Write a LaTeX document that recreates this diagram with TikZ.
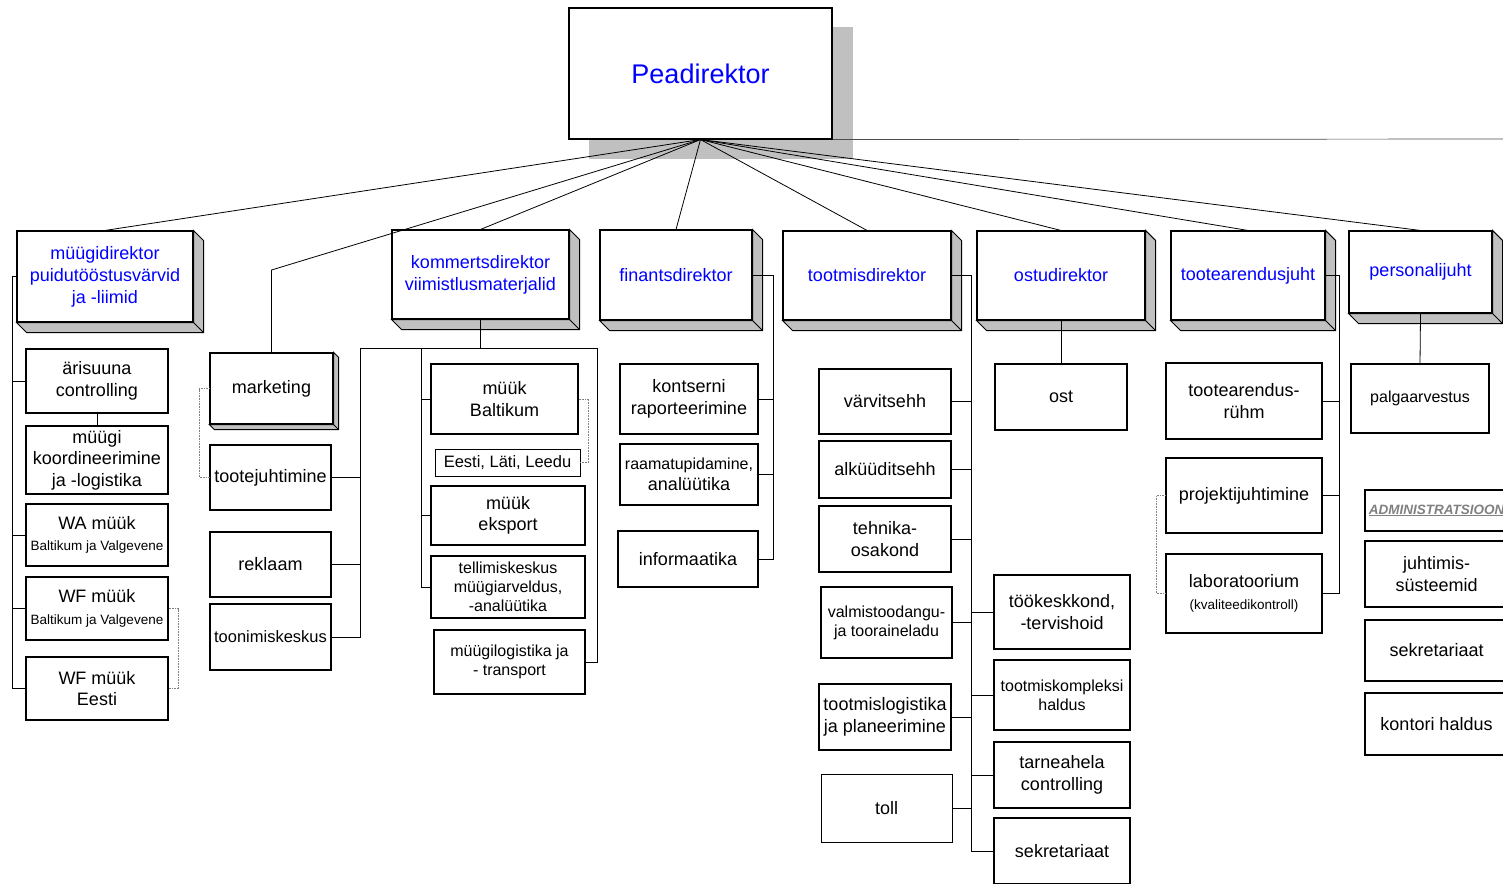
\documentclass[tikz,border=0pt]{standalone}
\usepackage{fontspec}
\setmainfont{Liberation Sans}
\usetikzlibrary{calc,positioning}
\definecolor{hdblue}{RGB}{0,0,255}
\definecolor{slabgray}{RGB}{192,192,192}
\definecolor{admgray}{RGB}{128,128,128}

\newcommand{\fsmall}{\fontsize{13.5}{15.5}\selectfont}
\newcommand{\fmid}{\fontsize{16}{19}\selectfont}
\newcommand{\fnorm}{\fontsize{18}{21.5}\selectfont}
\newcommand{\fhead}{\fontsize{18}{22}\selectfont}

% bottom and right face of a raised box
\newcommand{\slab}[2]{%
  \filldraw[fill=slabgray, line width=0.9pt] (#1.south west) -- ++(#2,#2)
    -- ($(#1.south east)+(#2,#2)$) -- ($(#1.north east)+(#2,#2)$)
    -- (#1.north east) -- (#1.south east) -- cycle;
  \draw[line width=0.9pt] (#1.south east) -- ++(#2,#2);}

\begin{document}
\begin{tikzpicture}[x=1pt, y=-1pt,
    dept/.style={draw, line width=1.2pt, inner sep=1pt, align=center, font=\fnorm},
    chief/.style={draw, fill=white, line width=1.1pt, inner sep=1pt, align=center,
                  text=hdblue, font=\fhead},
    link/.style={line width=0.8pt},
    dotlink/.style={densely dotted, line width=0.6pt, gray}
  ]
  \useasboundingbox (0,0) rectangle (1503,883);
  \clip (0,0) rectangle (1503,883);

  % Peadirektor with its shadow
  \fill[slabgray] (589,27) rectangle (853,159);
  \node[chief, minimum width=263, minimum height=131,
        font=\fontsize{27}{30}\selectfont] (boss) at (700.5,73.5) {Peadirektor};
  \coordinate (redge) at (1510,139);
  \draw[line width=0.7pt, black!70] (boss.south east) -- (redge);

  % directors
  \node[chief, minimum width=176, minimum height=91] (mdir) at (105,276.5)
    {müügidirektor\\puidutööstusvärvid\\ja -liimid};
  \node[chief, minimum width=177, minimum height=89] (kdir) at (480.5,274.5)
    {kommertsdirektor\\viimistlusmaterjalid};
  \node[chief, minimum width=152, minimum height=90] (fdir) at (676,275) {finantsdirektor};
  \node[chief, minimum width=168, minimum height=89] (tdir) at (867,275.5) {tootmisdirektor};
  \node[chief, minimum width=168, minimum height=89] (odir) at (1061,275.5) {ostudirektor};
  \node[chief, minimum width=154, minimum height=89] (adir) at (1248,275.5) {tootearendusjuht};
  \node[chief, minimum width=143, minimum height=82] (pdir) at (1420.5,272) {personalijuht};
  \foreach \d in {mdir,kdir,fdir,tdir,odir,adir,pdir} {\slab{\d}{10}}

  \node[dept, minimum width=123, minimum height=71] (mkt) at (271.5,388.5) {marketing};
  \slab{mkt}{5}

  % müügidirektor
  \node[dept, minimum width=142, minimum height=64] (aris) at (97,381) {ärisuuna\\controlling};
  \node[dept, minimum width=142, minimum height=68] (koord) at (97,460)
    {müügi\\koordineerimine\\ja -logistika};
  \node[dept, minimum width=142, minimum height=62] (wa) at (97,535)
    {WA müük\\{\fsmall Baltikum ja Valgevene}};
  \node[dept, minimum width=142, minimum height=63] (wfb) at (97,608.5)
    {WF müük\\{\fsmall Baltikum ja Valgevene}};
  \node[dept, minimum width=142, minimum height=63] (wfe) at (97,688.5) {WF müük\\Eesti};

  % marketing
  \node[dept, minimum width=121, minimum height=65] (tj) at (270.5,477.5) {tootejuhtimine};
  \node[dept, minimum width=121, minimum height=65] (rek) at (270.5,564.5) {reklaam};
  \node[dept, minimum width=121, minimum height=66, font=\fontsize{16.5}{19}\selectfont]
    (ton) at (270.5,637) {toonimiskeskus};

  % kommertsdirektor
  \node[dept, minimum width=147, minimum height=70] (mb) at (504.5,399) {müük\\Baltikum};
  \node[dept, line width=0.9pt, minimum width=145, minimum height=27,
        font=\fontsize{16.5}{18}\selectfont] (ell) at (507.5,462.5) {Eesti, Läti, Leedu};
  \node[dept, minimum width=154, minimum height=59] (me) at (508,515.5) {müük\\eksport};
  \node[dept, minimum width=154, minimum height=62, font=\fmid] (tel) at (508,587)
    {tellimiskeskus\\müügiarveldus,\\-analüütika};
  \node[dept, minimum width=151, minimum height=64, font=\fmid] (mlog) at (509.5,662)
    {müügilogistika ja\\- transport};

  % finantsdirektor
  \node[dept, minimum width=138, minimum height=70] (kontr) at (689,399)
    {kontserni\\raporteerimine};
  \node[dept, minimum width=138, minimum height=61] (rpid) at (689,474.5)
    {{\fmid raamatupidamine,}\\analüütika};
  \node[dept, minimum width=140, minimum height=56] (info) at (688,559) {informaatika};

  % tootmisdirektor
  \node[dept, minimum width=132, minimum height=65] (varv) at (885,401.5) {värvitsehh};
  \node[dept, minimum width=132, minimum height=57] (alk) at (885,469.5) {alküüditsehh};
  \node[dept, minimum width=132, minimum height=66] (tehn) at (885,539) {tehnika-\\osakond};
  \node[dept, minimum width=131, minimum height=71, font=\fmid] (ladu) at (886.5,622.5)
    {valmistoodangu-\\ja tooraineladu};
  \node[dept, minimum width=132, minimum height=66] (tlog) at (885,717)
    {tootmislogistika\\ja planeerimine};
  \node[dept, line width=0.9pt, minimum width=131, minimum height=68] (toll) at (886.5,808) {toll};
  \node[dept, minimum width=136, minimum height=74] (tkk) at (1062,612)
    {töökeskkond,\\-tervishoid};
  \node[dept, minimum width=136, minimum height=70, font=\fmid] (tkh) at (1062,695)
    {tootmiskompleksi\\haldus};
  \node[dept, minimum width=136, minimum height=66] (tarn) at (1062,775)
    {tarneahela\\controlling};
  \node[dept, minimum width=136, minimum height=66] (tsek) at (1062,851) {sekretariaat};

  % ostudirektor
  \node[dept, minimum width=132, minimum height=66] (ost) at (1061,397) {ost};

  % tootearendusjuht
  \node[dept, minimum width=156, minimum height=76] (tar) at (1244,401) {tootearendus-\\rühm};
  \node[dept, minimum width=156, minimum height=75] (pj) at (1244,495.5) {projektijuhtimine};
  \node[dept, minimum width=156, minimum height=79] (lab) at (1244,593.5)
    {laboratoorium\\{\fsmall (kvaliteedikontroll)}};

  % personalijuht
  \node[dept, minimum width=138, minimum height=69, font=\fmid] (palg) at (1420,398.5)
    {palgaarvestus};

  % administratsioon
  \node[dept, minimum width=143, minimum height=41, text=admgray,
        font=\fsmall\bfseries\itshape] (adm) at (1436.5,510.5) {\underline{ADMINISTRATSIOON}};
  \node[dept, minimum width=143, minimum height=66] (juht) at (1436.5,574) {juhtimis-\\süsteemid};
  \node[dept, minimum width=143, minimum height=61] (asek) at (1436.5,650.5) {sekretariaat};
  \node[dept, minimum width=143, minimum height=62] (kont) at (1436.5,724) {kontori haldus};

  % lines from Peadirektor
  \coordinate (mktbend) at (271.5,270);
  \foreach \d in {mdir,kdir,fdir,tdir,odir,adir,pdir} \draw[link] (boss.south) -- (\d.north);
  \draw[link] (boss.south) -- (mktbend) -- (mkt.north);

  % müügidirektor lines
  \coordinate (mbus) at (12,276.5);
  \draw[link] (mdir.west) -- (mbus) |- (wfe.west);
  \foreach \n in {aris,wa,wfb} \draw[link] (\n.west) -- (\n.west -| mbus);
  \draw[link] (aris.south) -- (koord.north);
  \draw[dotlink] (wfb.east) -- ++(10,0) |- (wfe.east);
  \draw[dotlink] (mkt.west) -- ++(-10,0) |- (tj.west);

  % kommertsdirektor lines
  \coordinate (kbus) at (480.5,348);
  \coordinate (kleft) at (360,348);
  \coordinate (kmid) at (421,348);
  \coordinate (kright) at (597,348);
  \draw[link] (kdir.south) -- (kbus);
  \draw[link] (kleft) -- (kright);
  \draw[link] (kleft) |- (ton.east);
  \foreach \n in {tj,rek} \draw[link] (\n.east) -- (\n.east -| kleft);
  \draw[link] (kmid) |- (tel.west);
  \foreach \n in {mb,me} \draw[link] (\n.west) -- (\n.west -| kmid);
  \draw[link] (kright) |- (mlog.east);
  \draw[dotlink] (mb.east) -- ++(10,0) |- (ell.east);

  % finantsdirektor lines
  \coordinate (fbus) at (773,275);
  \draw[link] (fdir.east) -- (fbus) |- (info.east);
  \foreach \n in {kontr,rpid} \draw[link] (\n.east) -- (\n.east -| fbus);

  % tootmisdirektor lines
  \coordinate (tbus) at (971,275.5);
  \draw[link] (tdir.east) -- (tbus) |- (tsek.west);
  \foreach \n in {varv,alk,tehn,ladu,tlog,toll} \draw[link] (\n.east) -- (\n.east -| tbus);
  \foreach \n in {tkk,tkh,tarn} \draw[link] (\n.west) -- (\n.west -| tbus);

  % ostudirektor, personalijuht
  \draw[link] (odir.south) -- (ost.north);
  \draw[link] (pdir.south) -- (palg.north);

  % tootearendusjuht lines
  \coordinate (abus) at (1339,275.5);
  \draw[link] (adir.east) -- (abus) |- (lab.east);
  \foreach \n in {tar,pj} \draw[link] (\n.east) -- (\n.east -| abus);
  \draw[dotlink] (pj.west) -- ++(-9,0) |- (lab.west);
\end{tikzpicture}
\end{document}
